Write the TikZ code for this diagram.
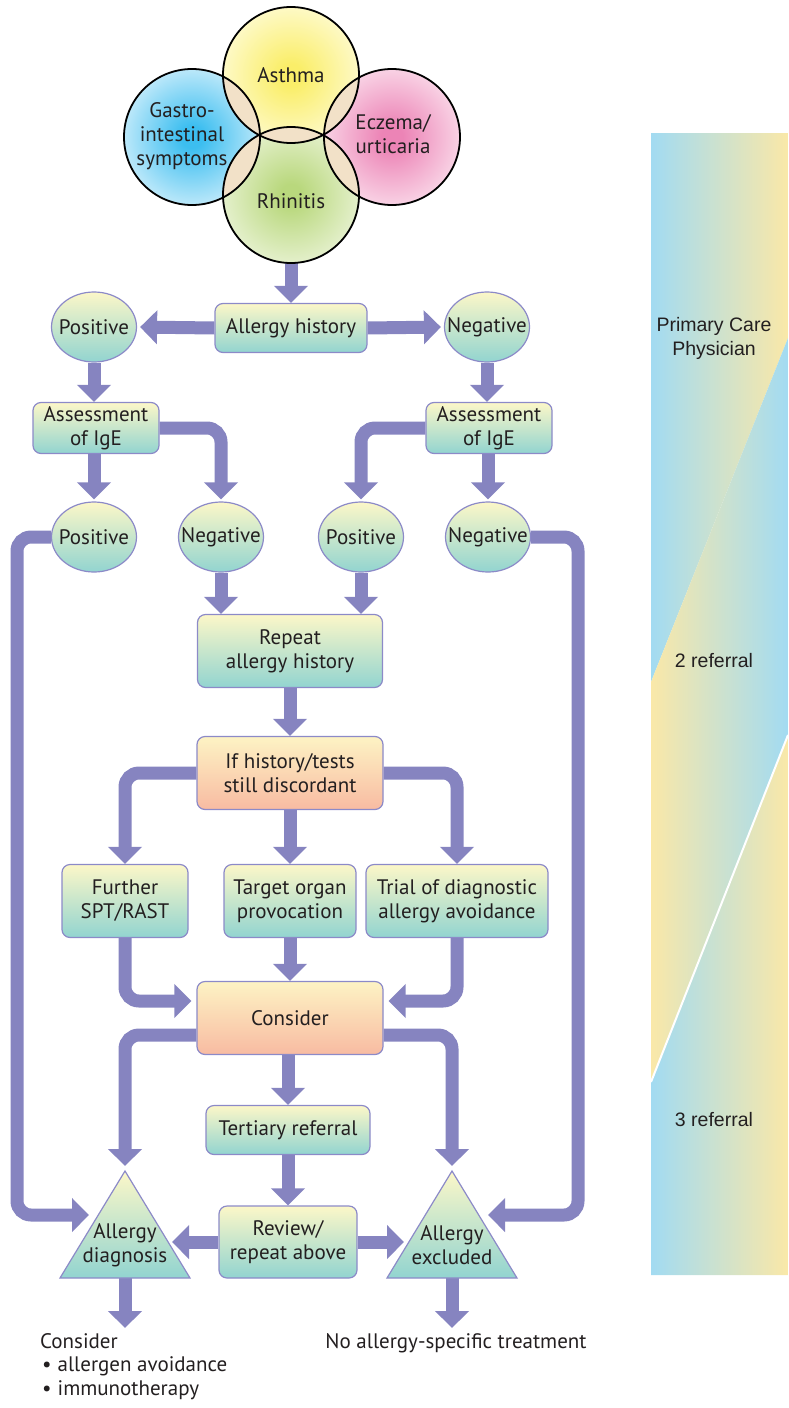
\documentclass[tikz,border=0pt]{standalone}
\usepackage{fontspec}
\setmainfont{PT Sans}
\newfontfamily\bandfont{Liberation Sans}
\usetikzlibrary{arrows.meta,shapes.geometric,calc}

% palette
\definecolor{ink}{RGB}{35,31,32}
\definecolor{arrowc}{RGB}{134,132,192}
\definecolor{edge}{RGB}{140,138,200}
\definecolor{boxtop}{RGB}{252,247,200}
\definecolor{boxbot}{RGB}{146,212,208}
\definecolor{orgtop}{RGB}{253,243,196}
\definecolor{orgbot}{RGB}{248,187,162}
\definecolor{lens}{RGB}{242,225,200}
\definecolor{bandblue}{RGB}{162,219,242}
\definecolor{bandyellow}{RGB}{250,232,168}
\definecolor{astc}{RGB}{250,238,105}
\definecolor{astw}{RGB}{255,253,228}
\definecolor{gasc}{RGB}{60,190,240}
\definecolor{gasw}{RGB}{242,250,254}
\definecolor{eczc}{RGB}{236,132,182}
\definecolor{eczw}{RGB}{254,243,248}
\definecolor{rhic}{RGB}{185,216,125}
\definecolor{rhiw}{RGB}{246,250,236}

% radial fills for the four symptom circles
\pgfdeclareradialshading{astshade}{\pgfpoint{0bp}{0bp}}{color(0bp)=(astc); color(4bp)=(astc); color(32bp)=(astw); color(50bp)=(astw)}
\pgfdeclareradialshading{gasshade}{\pgfpoint{0bp}{0bp}}{color(0bp)=(gasc); color(4bp)=(gasc); color(34bp)=(gasw); color(50bp)=(gasw)}
\pgfdeclareradialshading{eczshade}{\pgfpoint{0bp}{0bp}}{color(0bp)=(eczc); color(4bp)=(eczc); color(34bp)=(eczw); color(50bp)=(eczw)}
\pgfdeclareradialshading{rhishade}{\pgfpoint{0bp}{0bp}}{color(0bp)=(rhic); color(4bp)=(rhic); color(34bp)=(rhiw); color(50bp)=(rhiw)}

\pgfdeclarelayer{bg}
\pgfsetlayers{bg,main}

\begin{document}
\begin{tikzpicture}[x=1pt,y=-1pt,
  txt/.style={font=\fontsize{21pt}{24pt}\selectfont, text=ink, align=center, inner sep=0pt},
  gbox/.style={txt, draw=edge, line width=1.2pt, rounded corners=8pt, top color=boxtop, bottom color=boxbot},
  obox/.style={gbox, top color=orgtop, bottom color=orgbot},
  gell/.style={ellipse, draw=edge, line width=1.2pt, top color=boxtop, bottom color=boxbot, minimum width=85pt, minimum height=70pt, inner sep=0pt},
  gtri/.style={draw=edge, line width=1.2pt, top color=boxtop, bottom color=boxbot},
  flow/.style={draw=arrowc, line width=13pt, -{Triangle[length=17pt,width=33pt]}, rounded corners=14pt},
  bandtxt/.style={font=\bandfont\fontsize{19.5pt}{24pt}\selectfont, text=ink, align=center, inner sep=0pt},
  ring/.style={draw=black, line width=1.8pt}
]
\useasboundingbox (0,0) rectangle (788,1408);

% ---- side band: care levels ----
\shade[left color=bandblue, right color=bandyellow] (651,133) -- (788,133) -- (788,338) -- (651,682) -- cycle;
\shade[left color=bandyellow, right color=bandblue] (651,682) -- (788,338) -- (788,735) -- (651,1082) -- cycle;
\shade[left color=bandblue, right color=bandyellow] (651,1082) -- (788,735) -- (788,1275) -- (651,1275) -- cycle;
\draw[white, line width=2pt] (788,735) -- (651,1082);
\node[bandtxt] (pcp) at (714,338) {Primary Care\\Physician};
\node[bandtxt] (ref2) at (714,661) {2 referral};
\node[bandtxt] (ref3) at (714,1120) {3 referral};

% ---- symptom circles ----
\shade[shading=astshade] (291,75) circle[radius=68pt];
\shade[shading=gasshade] (192,137) circle[radius=68pt];
\shade[shading=eczshade] (392,137) circle[radius=68pt];
\shade[shading=rhishade] (291,195) circle[radius=68pt];
\begin{scope}
  \clip (291,75) circle[radius=68pt];
  \fill[lens] (192,137) circle[radius=68pt];
  \fill[lens] (392,137) circle[radius=68pt];
  \fill[lens] (291,195) circle[radius=68pt];
\end{scope}
\begin{scope}
  \clip (291,195) circle[radius=68pt];
  \fill[lens] (192,137) circle[radius=68pt];
  \fill[lens] (392,137) circle[radius=68pt];
\end{scope}
\draw[ring] (291,75) circle[radius=68pt];
\draw[ring] (192,137) circle[radius=68pt];
\draw[ring] (392,137) circle[radius=68pt];
\draw[ring] (291,195) circle[radius=68pt];
\node[txt, circle, minimum size=136pt] (ast) at (291,75) {Asthma};
\node[txt, circle, minimum size=136pt] (gas) at (192,137) {};
\node[txt] (gastxt) at (182,136) {Gastro-\\intestinal\\symptoms};
\node[txt, circle, minimum size=136pt] (ecz) at (392,137) {};
\node[txt] (ecztxt) at (393,134) {Eczema/\\urticaria};
\node[txt, circle, minimum size=136pt] (rhin) at (291,195) {};
\node[txt] (rhintxt) at (291,201) {Rhinitis};

% ---- flow nodes ----
\node[gbox, minimum width=152pt, minimum height=49pt] (hist) at (291,328) {Allergy history};
\node[gell] (posA) at (94,327) {};
\node[txt] (posAt) at (posA) {Positive};
\node[gell] (negA) at (487,327) {};
\node[txt] (negAt) at (negA) {Negative};
\node[gbox, minimum width=126pt, minimum height=51pt] (assL) at (96,428) {Assessment\\of IgE};
\node[gbox, minimum width=126pt, minimum height=51pt] (assR) at (489,428) {Assessment\\of IgE};
\node[gell] (pos1) at (94,537) {};
\node[txt] (pos1t) at (pos1) {Positive};
\node[gell] (neg1) at (221,537) {};
\node[txt] (neg1t) at (neg1) {Negative};
\node[gell] (pos2) at (361,537) {};
\node[txt] (pos2t) at (pos2) {Positive};
\node[gell] (neg2) at (488,537) {};
\node[txt] (neg2t) at (neg2) {Negative};
\node[gbox, minimum width=185pt, minimum height=73pt] (rep) at (290,651) {Repeat\\allergy history};
\node[obox, minimum width=186pt, minimum height=73pt] (ifb) at (290,773) {If history/tests\\still discordant};
\node[gbox, minimum width=126pt, minimum height=73pt] (fur) at (125,901) {Further\\SPT/RAST};
\node[gbox, minimum width=132pt, minimum height=73pt] (tgt) at (290,901) {Target organ\\provocation};
\node[gbox, minimum width=182pt, minimum height=73pt] (trial) at (457,901) {Trial of diagnostic\\allergy avoidance};
\node[obox, minimum width=186pt, minimum height=73pt] (cons) at (290,1018) {Consider};
\node[gbox, minimum width=164pt, minimum height=49pt] (ter) at (288,1130) {Tertiary referral};
\node[gbox, minimum width=138pt, minimum height=72pt] (rev) at (288,1242) {Review/\\repeat above};

% outcome triangles
\draw[gtri] (125,1171) -- (190,1278) -- (60,1278) -- cycle;
\draw[gtri] (452,1171) -- (517,1278) -- (387,1278) -- cycle;
\node[txt] (dg) at (125,1245) {Allergy\\diagnosis};
\node[txt] (ex) at (452,1245) {Allergy\\excluded};
\coordinate (dgT) at (125,1166);
\coordinate (dgL) at (89,1215);
\coordinate (dgR) at (172,1242);
\coordinate (dgB) at (125,1278);
\coordinate (exT) at (452,1166);
\coordinate (exR) at (488,1215);
\coordinate (exL) at (404,1242);
\coordinate (exB) at (452,1278);

% closing recommendations
\node[txt, align=left, anchor=north west, font=\fontsize{21pt}{23.5pt}\selectfont] (ctext) at (40,1333)
  {Consider\\\hspace*{2pt}\textbullet\hspace{6pt}allergen avoidance\\\hspace*{2pt}\textbullet\hspace{6pt}immunotherapy};
\node[txt, anchor=north] (ntext) at (456,1333) {No allergy-specific treatment};

% ---- connectors ----
\begin{pgfonlayer}{bg}
\draw[flow] (rhin.south) -- (rhin.south |- hist.north);
\draw[flow, shorten >=3pt] (hist.west) -- (posA.east);
\draw[flow, shorten >=3pt] (hist.east) -- (negA.west);
\draw[flow] (posA.south) -- (posA.south |- assL.north);
\draw[flow] (negA.south) -- (negA.south |- assR.north);
\draw[flow, shorten >=2pt] (assL.south -| pos1.north) -- (pos1.north);
\draw[flow, shorten >=2pt] (assL.east) -| (neg1.north);
\draw[flow, shorten >=2pt] (assR.west) -| (pos2.north);
\draw[flow, shorten >=2pt] (assR.south -| neg2.north) -- (neg2.north);
\draw[flow] (neg1.south) -- (neg1.south |- rep.north);
\draw[flow] (pos2.south) -- (pos2.south |- rep.north);
\draw[flow] (pos1.west) -- (17,537) |- (dgL);
\draw[flow] (neg2.east) -- (578,537) |- (exR);
\draw[flow] (rep.south) -- (ifb.north);
\draw[flow] (ifb.west) -| (fur.north);
\draw[flow] (ifb.south) -- (tgt.north);
\draw[flow] (ifb.east) -| (trial.north);
\draw[flow, shorten >=5pt] (fur.south) |- ([yshift=17pt]cons.west);
\draw[flow] (tgt.south) -- (cons.north);
\draw[flow, shorten >=5pt] (trial.south) |- ([yshift=17pt]cons.east);
\draw[flow] ([yshift=-17pt]cons.west) -| (dgT);
\draw[flow] ([yshift=-17pt]cons.east) -| (exT);
\draw[flow] (ter.north |- cons.south) -- (ter.north);
\draw[flow] (ter.south) -- (ter.south |- rev.north);
\draw[flow] (rev.west) -- (dgR);
\draw[flow] (rev.east) -- (exL);
\draw[flow, shorten >=5pt] (dgB) -- (dgB |- ctext.north);
\draw[flow, shorten >=5pt] (exB) -- (exB |- ntext.north);
\end{pgfonlayer}
\end{tikzpicture}
\end{document}
